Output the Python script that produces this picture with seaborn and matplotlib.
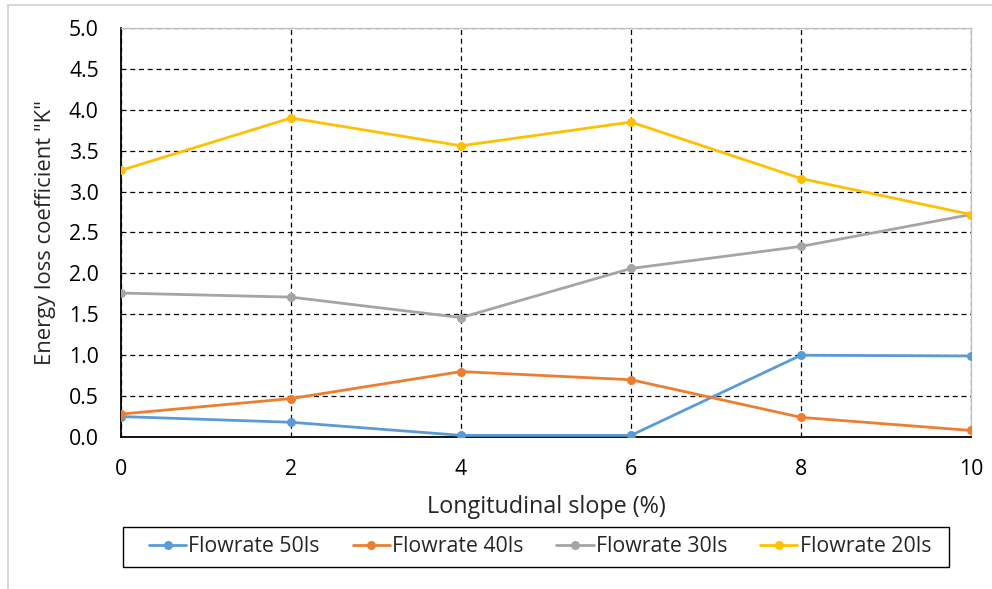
import matplotlib
matplotlib.use("Agg")
import matplotlib.pyplot as plt
from matplotlib.lines import Line2D
from matplotlib.patches import Rectangle
import seaborn as sns
import pandas as pd

# Energy loss coefficient K versus longitudinal slope, per flowrate
slope = [0, 2, 4, 6, 8, 10]
k_50 = [0.25, 0.18, 0.02, 0.02, 1.00, 0.99]
k_40 = [0.28, 0.47, 0.80, 0.70, 0.24, 0.08]
k_30 = [1.76, 1.71, 1.46, 2.06, 2.33, 2.72]
k_20 = [3.26, 3.90, 3.56, 3.85, 3.16, 2.72]
series_names = ["Flowrate 50ls", "Flowrate 40ls", "Flowrate 30ls", "Flowrate 20ls"]
colors = ["#5B9BD5", "#ED7D31", "#A5A5A5", "#FFC000"]

frames = []
for name, vals in zip(series_names, [k_50, k_40, k_30, k_20]):
    frames.append(pd.DataFrame({"slope": slope, "K": vals, "series": name}))
df = pd.concat(frames, ignore_index=True)

sns.set_theme(style="white")
plt.rcParams["font.family"] = ["Open Sans", "DejaVu Sans"]

W, H = 992, 589
fig = plt.figure(figsize=(W / 100, H / 100), dpi=100)
ax = fig.add_axes([121 / W, 1 - 437 / H, (971 - 121) / W, (437 - 28) / H])

sns.lineplot(data=df, x="slope", y="K", hue="series", hue_order=series_names,
             palette=colors, marker="o", markersize=6.5, markeredgewidth=0,
             linewidth=2.0, ax=ax, legend=False, zorder=3)

ax.set_xlim(0, 10)
ax.set_ylim(0, 5.0)
ax.set_xticks(slope)
ax.set_xticklabels([str(s) for s in slope])
ax.set_yticks([i * 0.5 for i in range(11)])
ax.set_yticklabels([f"{i * 0.5:.1f}" for i in range(11)])
ax.tick_params(axis="both", length=0, labelsize=15.3, colors="black")
ax.tick_params(axis="x", pad=16)
ax.tick_params(axis="y", pad=16)

ax.grid(True, color="black", linestyle=(0, (4, 3)), linewidth=0.9, zorder=1)
ax.set_axisbelow(True)
for side in ["left", "bottom"]:
    ax.spines[side].set_color("black")
    ax.spines[side].set_linewidth(1.3)
for side in ["top", "right"]:
    ax.spines[side].set_color("#bfbfbf")
    ax.spines[side].set_linewidth(0.9)

ax.set_xlabel("Longitudinal slope (%)", fontsize=16.8)
ax.set_ylabel('Energy loss coefficient "K"', fontsize=15.8)
ax.xaxis.set_label_coords(0.5, -(507 - 437) / (437 - 28), transform=ax.transAxes)
ax.xaxis.label.set_va("center")
ax.yaxis.set_label_coords(-(121 - 46) / (971 - 121), 0.5, transform=ax.transAxes)
ax.yaxis.label.set_va("center")

# legend entries, centred inside a rectangular box under the axis title
handles = [Line2D([0], [0], color=c, lw=2.0, marker="o", markersize=6.5,
                  markeredgewidth=0) for c in colors]
leg = fig.legend(handles, series_names, loc="center",
                 bbox_to_anchor=(540 / W, 1 - 547 / H),
                 ncol=4, fontsize=15.3, frameon=False,
                 handlelength=1.75, handletextpad=0.1, columnspacing=1.55,
                 borderpad=0, borderaxespad=0)
fig.add_artist(Rectangle((123 / W, 1 - 567 / H), 826 / W, 40 / H,
                         transform=fig.transFigure, fill=False,
                         edgecolor="black", linewidth=1.0))

# light outer chart border along the top and left edges
fig.add_artist(Line2D([8 / W, 1], [1 - 5 / H, 1 - 5 / H],
                      transform=fig.transFigure, color="#d9d9d9", lw=1.5))
fig.add_artist(Line2D([8 / W, 8 / W], [0, 1 - 5 / H],
                      transform=fig.transFigure, color="#d9d9d9", lw=1.5))

fig.savefig("out.png", dpi=100)
